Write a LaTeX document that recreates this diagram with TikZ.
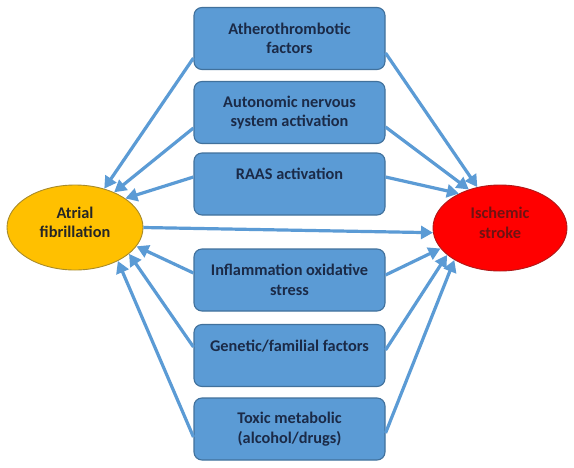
\documentclass[tikz,border=0pt]{standalone}
\usepackage{fontspec}
\setmainfont{Carlito}
\usetikzlibrary{arrows.meta,shapes.geometric}
\definecolor{boxfill}{HTML}{5B9BD5}
\definecolor{boxline}{HTML}{41719C}
\definecolor{boxtext}{HTML}{1B2A47}
\definecolor{arrowblue}{HTML}{5B9BD5}
\definecolor{affill}{HTML}{FFC000}
\definecolor{afline}{HTML}{A88B2A}
\definecolor{aftext}{HTML}{262626}
\definecolor{isfill}{HTML}{FF0000}
\definecolor{isline}{HTML}{B01818}
\definecolor{istext}{HTML}{6E1212}
\begin{document}
\begin{tikzpicture}[x=1pt,y=-1pt,
  lbl/.style={font=\fontsize{16.3}{19.5}\selectfont\bfseries, align=center},
  factorbox/.style={lbl, draw=boxline, line width=1.1pt, fill=boxfill, rounded corners=8pt,
    minimum width=191pt, minimum height=62pt, inner sep=0pt, text=boxtext},
  oval/.style={lbl, ellipse, line width=0.9pt, minimum width=136pt, minimum height=85pt,
    inner sep=0pt, text depth=10pt},
  arr/.style={draw=arrowblue, line width=3.2pt, -{Triangle[length=12pt,width=13pt]}, arrowblue}
]
\useasboundingbox (0,0) rectangle (574,467);
\fill[white] (0,0) rectangle (574,467);

\node[factorbox] (b1) at (289.5,38.5) {Atherothrombotic\\factors};
\node[factorbox] (b2) at (289.5,112.5) {Autonomic nervous\\system activation};
\node[factorbox] (b3) at (289.5,184) {RAAS activation\\\mbox{}};
\node[factorbox] (b4) at (289.5,280) {Inflammation oxidative\\stress};
\node[factorbox] (b5) at (289.5,355.5) {Genetic/familial factors\\\mbox{}};
\node[factorbox] (b6) at (289.5,429) {Toxic metabolic\\(alcohol/drugs)};

\node[oval, draw=afline, fill=affill, text=aftext] (af) at (75,227.5) {Atrial\\fibrillation};
\node[oval, draw=isline, fill=isfill, text=istext, minimum width=134pt, minimum height=86pt] (is) at (500,228) {Ischemic\\stroke};

% arrows to atrial fibrillation
\draw[arr] ([yshift=-19.5pt]b1.west) -- (af.53);
\draw[arr] ([yshift=-15.5pt]b2.west) -- (af.42);
\draw[arr] ([yshift=7pt]b3.west) -- (af.30);
\draw[arr] ([yshift=7pt]b4.west) -- (af.-17.5);
\draw[arr] ([yshift=8.5pt]b5.west) -- (af.-26.6);
\draw[arr] ([yshift=-8pt]b6.west) -- (af.-38);

% arrows to ischemic stroke
\draw[arr] ([yshift=-14.5pt]b1.east) -- (is.119);
\draw[arr] ([yshift=-14.5pt]b2.east) -- (is.129);
\draw[arr] ([yshift=7pt]b3.east) -- (is.140);
\draw[arr] ([yshift=5pt]b4.east) -- (is.199);
\draw[arr] ([yshift=5.5pt]b5.east) -- (is.207);
\draw[arr] ([yshift=-4pt]b6.east) -- (is.215);

\draw[arr] (af.east) -- (is.184);
\end{tikzpicture}
\end{document}
